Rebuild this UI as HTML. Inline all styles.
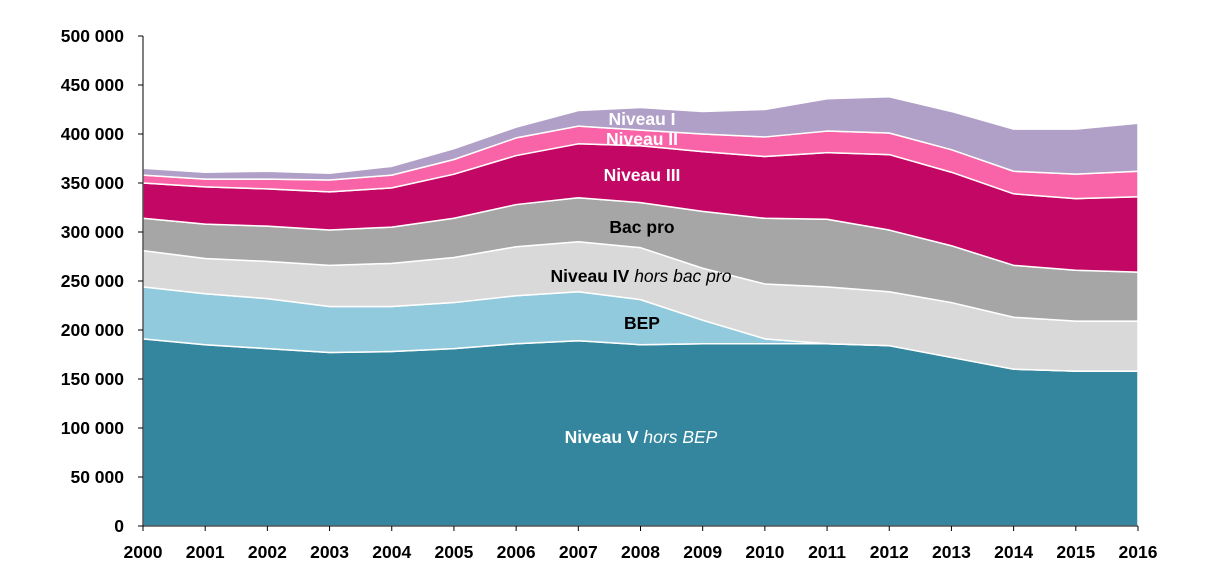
<!DOCTYPE html>
<html><head><meta charset="utf-8"><style>
html,body{margin:0;padding:0;background:#fff;}
svg{display:block;font-family:"Liberation Sans",Arial,sans-serif;}
</style></head><body>
<svg id="chart" width="1205" height="586" viewBox="0 0 1205 586"></svg>
<script>
const years=[2000,2001,2002,2003,2004,2005,2006,2007,2008,2009,2010,2011,2012,2013,2014,2015,2016];
const niveauV=[191,185,181,177,178,181,186,189,185,186,186,186,184,172,160,158,158];
const bep=[53,52,51,47,46,47,49,50,46,24,5,0,0,0,0,0,0];
const niveauIV=[37,36,38,42,44,46,50,51,53,53,56,58,55,56,53,51,51];
const bacPro=[33,35,36,36,37,40,43,45,46,58,67,69,63,58,53,52,50];
const niveauIII=[36,38,38,39,40,45,50,55,58,61,63,68,77,75,73,73,77];
const niveauII=[8,8,10,12,13,15,18,18,16,18,20,22,22,23,23,25,26];
const niveauI=[7,7,8,7,9,11,11,16,23,23,28,33,37,39,43,46,49];
const yTicks=[0,50,100,150,200,250,300,350,400,450,500];
const yTickLabels=["0","50 000","100 000","150 000","200 000","250 000","300 000","350 000","400 000","450 000","500 000"];
const series=[
 {name:"niveau-v",vals:niveauV,color:"#33869e"},
 {name:"bep",vals:bep,color:"#92cadd"},
 {name:"niveau-iv",vals:niveauIV,color:"#d9d9d9"},
 {name:"bac-pro",vals:bacPro,color:"#a6a6a6"},
 {name:"niveau-iii",vals:niveauIII,color:"#c30764"},
 {name:"niveau-ii",vals:niveauII,color:"#f964a8"},
 {name:"niveau-i",vals:niveauI,color:"#b09fc6"}
];
const X0=143,X1=1138,Y0=526,Y1=36;
const x=i=>X0+(X1-X0)*i/(years.length-1);
const y=v=>Y0-(Y0-Y1)*v/500;
const svg=document.getElementById('chart');
const NS="http://www.w3.org/2000/svg";
function mk(t,a,p){const e=document.createElementNS(NS,t);for(const k in a)e.setAttribute(k,a[k]);(p||svg).appendChild(e);return e;}
let base=years.map(()=>0);
series.forEach(s=>{
  const top=base.map((b,i)=>b+s.vals[i]);
  let d="M"+years.map((_,i)=>x(i)+","+y(top[i])).join("L");
  for(let i=years.length-1;i>=0;i--)d+="L"+x(i)+","+y(base[i]);
  d+="Z";
  const p=mk("path",{d:d,fill:s.color,stroke:"#fff","stroke-width":"1.5","stroke-linejoin":"round"});
  
  
  base=top;
});
const ax=mk("path",{d:`M${X0},${Y1}V${Y0}H${X1}`,stroke:"#000","stroke-width":"1",fill:"none"});


yTicks.forEach((v,i)=>{
  mk("line",{x1:X0-5,x2:X0,y1:y(v),y2:y(v),stroke:"#000"});
  const t=mk("text",{x:124,y:y(v)+6,"text-anchor":"end","font-size":"17.5","font-weight":"bold"});
  t.textContent=yTickLabels[i];
  
  
});
years.forEach((yr,i)=>{
  mk("line",{x1:x(i),x2:x(i),y1:Y0,y2:Y0+5,stroke:"#000"});
  const t=mk("text",{x:x(i),y:558,"text-anchor":"middle","font-size":"17.5","font-weight":"bold"});
  t.textContent=yr;
  
  
});
function label(name,xx,yy,bold,ital,color){
  const t=mk("text",{x:xx,y:yy,"text-anchor":"middle","font-size":"17.5",fill:color});
  
  
  const a=mk("tspan",{"font-weight":"bold"},t);a.textContent=bold;
  if(ital){const b=mk("tspan",{"font-style":"italic","font-weight":"normal"},t);b.textContent="  "+ital;}
}
label("label-niveau-v",641,443,"Niveau V","hors BEP","#fff");
label("label-bep",642,329,"BEP",null,"#000");
label("label-niveau-iv",641,282,"Niveau IV","hors bac pro","#000");
label("label-bac-pro",642,233,"Bac pro",null,"#000");
label("label-niveau-iii",642,181,"Niveau III",null,"#fff");
label("label-niveau-ii",642,145,"Niveau II",null,"#fff");
label("label-niveau-i",642,125,"Niveau I",null,"#fff");
</script>
</body></html>
